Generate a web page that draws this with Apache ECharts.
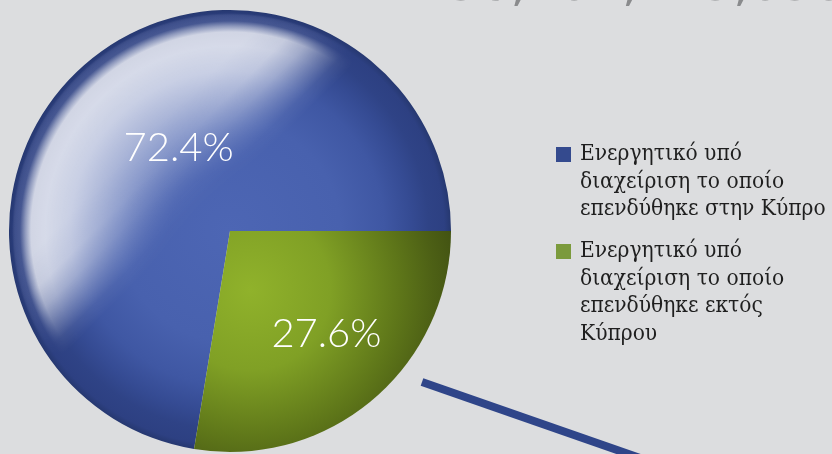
<!DOCTYPE html>
<html>
<head>
<meta charset="utf-8">
<script src="https://cdn.jsdelivr.net/npm/echarts@6/dist/echarts.min.js"></script>
<style>
html,body{margin:0;padding:0;background:#dcdddf;}
#chart{width:832px;height:454px;}
</style>
</head>
<body>
<div id="chart"></div>
<script>
// ---- data ----
const CATEGORIES = [
  'Ενεργητικό υπό\nδιαχείριση το οποίο\nεπενδύθηκε στην Κύπρο',
  'Ενεργητικό υπό\nδιαχείριση το οποίο\nεπενδύθηκε εκτός\nΚύπρου'
];
const SHARES = [72.4, 27.6];
const TOTAL_LABEL = '36,207,223,030';

// ---- style ----
const CENTER = [230, 231];
const RADIUS = 221;
const LEGEND_COLORS = ['#344a8e', '#7b9a3c'];
const LABEL_OFFSETS = [[22, 4], [23, 17]];
const LEGEND_ICONS = [
  'path://M0,0V110M19,0V110M0,20H15V35H0Z',
  'path://M0,0V110M19,0V110M0,6.25H15V21.25H0Z'
];

const blueFill = {
  type: 'radial', x: CENTER[0], y: CENTER[1], r: RADIUS, global: true,
  colorStops: [
    {offset: 0, color: '#4d66b4'},
    {offset: 0.5, color: '#4861ae'},
    {offset: 0.7, color: '#3f57a3'},
    {offset: 0.82, color: '#354b93'},
    {offset: 0.9, color: '#2f4386'},
    {offset: 0.97, color: '#2d4082'},
    {offset: 1, color: '#263870'}
  ]
};
const greenFill = {
  type: 'radial', x: 250, y: 290, r: 230, global: true,
  colorStops: [
    {offset: 0, color: '#90b22b'},
    {offset: 0.35, color: '#80a025'},
    {offset: 0.65, color: '#5e7619'},
    {offset: 0.8, color: '#4d6015'},
    {offset: 1, color: '#3a4810'}
  ]
};
const FILLS = [blueFill, greenFill];

// glossy highlight (decoration) on its own layer, faded out toward lower-right
const HL_R = 218;
const PROFILE = [[0,0],[60,0.12],[100,0.36],[130,0.55],[160,0.72],[185,0.8],[199,0.78],[205,0.45],[210,0.12],[216,0.08],[218,0]];
const k1 = -125 / Math.SQRT2, k2 = -30 / Math.SQRT2;
const highlight = [
  {
    type: 'circle', silent: true, zlevel: 1, z: 1,
    shape: {cx: CENTER[0], cy: CENTER[1], r: HL_R},
    style: {fill: {type: 'radial', x: CENTER[0], y: CENTER[1], r: HL_R, global: true,
      colorStops: PROFILE.map(([rho, a]) => ({offset: rho / HL_R, color: 'rgba(255,255,255,' + a + ')'}))}}
  },
  {
    type: 'circle', silent: true, zlevel: 1, z: 2,
    shape: {cx: CENTER[0], cy: CENTER[1], r: HL_R + 2},
    style: {
      blend: 'destination-out',
      fill: {type: 'linear', x: CENTER[0] + k1, y: CENTER[1] + k1, x2: CENTER[0] + k2, y2: CENTER[1] + k2, global: true,
        colorStops: [
          {offset: 0, color: 'rgba(0,0,0,0)'},
          {offset: 0.3, color: 'rgba(0,0,0,0.08)'},
          {offset: 0.5, color: 'rgba(0,0,0,0.3)'},
          {offset: 0.7, color: 'rgba(0,0,0,0.65)'},
          {offset: 0.85, color: 'rgba(0,0,0,0.9)'},
          {offset: 1, color: 'rgba(0,0,0,1)'}
        ]}
    }
  }
];

const total = SHARES.reduce((a, b) => a + b, 0);
const startAngle = 360 - 360 * SHARES[1] / total;

const chart = echarts.init(document.getElementById('chart'), null, {renderer: 'canvas'});
chart.setOption({
  backgroundColor: '#dcdddf',
  animation: false,
  title: {
    text: TOTAL_LABEL, left: 447, top: -38, padding: 0,
    textStyle: {fontFamily: 'DejaVu Sans', fontSize: 50, fontWeight: 'normal', color: '#8a8b8d'}
  },
  legend: {
    orient: 'vertical', left: 556, top: 127, padding: 0,
    itemWidth: 19, itemHeight: 110, itemGap: 0.75,
    selectedMode: false,
    itemStyle: {borderWidth: 0},
    textStyle: {fontFamily: '"DejaVu Serif Condensed", "DejaVu Serif"', fontSize: 22.5, lineHeight: 27.5, color: '#1f1f1f'},
    data: CATEGORIES.map((n, i) => ({name: n, icon: LEGEND_ICONS[i], itemStyle: {color: LEGEND_COLORS[i], borderWidth: 0}}))
  },
  graphic: highlight.concat([{
    type: 'line', silent: true, z: 1,
    shape: {x1: 422, y1: 382, x2: 640, y2: 458},
    style: {stroke: '#2f4589', lineWidth: 8, lineCap: 'butt'}
  }]),
  series: [{
    type: 'pie',
    center: CENTER,
    radius: RADIUS,
    startAngle: startAngle,
    clockwise: true,
    avoidLabelOverlap: false,
    silent: true,
    itemStyle: {borderWidth: 0},
    labelLine: {show: false},
    label: {
      show: true, position: 'inside',
      formatter: p => p.value.toFixed(1) + '%',
      fontFamily: 'Lato', fontWeight: 300, fontSize: 40, color: '#ffffff'
    },
    data: CATEGORIES.map((n, i) => ({
      name: n, value: SHARES[i],
      itemStyle: {color: FILLS[i]},
      label: {offset: LABEL_OFFSETS[i]}
    }))
  }]
});
</script>
</body>
</html>
